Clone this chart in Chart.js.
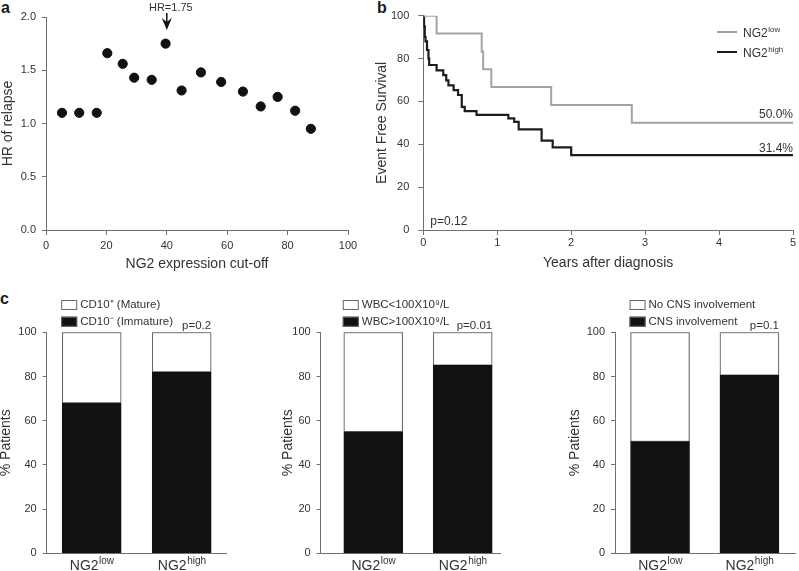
<!DOCTYPE html>
<html>
<head>
<meta charset="utf-8">
<script src="https://cdn.jsdelivr.net/npm/chart.js@4.4.0/dist/chart.umd.min.js"></script>
<style>
  body { margin: 0; background: #fff; width: 799px; height: 571px; position: relative; overflow: hidden;
         font-family: "Liberation Sans", Arial, Helvetica, sans-serif; }
  canvas { position: absolute; }
  .tag { position: absolute; font-weight: bold; font-size: 16px; line-height: 16px; color: #1a1a1a; }
</style>
</head>
<body>
<div class="tag" style="left:1px;top:0px">a</div>
<div class="tag" style="left:377px;top:0px">b</div>
<div class="tag" style="left:0px;top:291px">c</div>

<canvas id="chartA" width="365" height="280" style="left:0;top:0"></canvas>
<canvas id="chartB" width="434" height="280" style="left:365px;top:0"></canvas>
<canvas id="chartC1" width="237" height="281" style="left:-8px;top:290px"></canvas>
<canvas id="chartC2" width="240" height="281" style="left:262px;top:290px"></canvas>
<canvas id="chartC3" width="252" height="281" style="left:545px;top:290px"></canvas>

<script>
// Panel a: hazard ratio of relapse per NG2 cut-off
const cutoffs = [5.3, 11, 16.8, 20.3, 25.4, 29.2, 35, 39.6, 44.9, 51.3, 58, 65.2, 71.1, 76.7, 82.5, 87.7];
const hrValues = [1.10, 1.10, 1.10, 1.66, 1.56, 1.43, 1.41, 1.75, 1.31, 1.48, 1.39, 1.30, 1.16, 1.25, 1.12, 0.95];
const hrHighlightCutoff = 40;
const hrHighlightText = 'HR=1.75';

// Panel b: Kaplan-Meier event free survival (years, %)
const lowTimes = [0, 0.18, 0.79, 0.81, 0.92, 1.73, 2.82, 5];
const lowSurv = [100, 91.7, 83.3, 75, 66.7, 58.3, 50, 50];
const highTimes = [0, 0.01, 0.02, 0.03, 0.05, 0.07, 0.08, 0.18, 0.27, 0.31, 0.34, 0.41, 0.47, 0.52, 0.56, 0.72, 1.15, 1.23, 1.29, 1.6, 1.75, 2.0, 5];
const highSurv = [100, 95, 90, 88, 84, 80, 77, 74.5, 72.3, 69.8, 67.5, 65.3, 63, 57.5, 55.5, 53.7, 52.1, 50.5, 47, 41.7, 38.6, 34.9, 34.9];
const kmEndLabels = ['50.0%', '31.4%'];
const kmPText = 'p=0.12';

// Panel c: % patients per group
const groupBase = 'NG2';
const groupSup = ['low', 'high'];
const cd10Neg = [68, 82];
const cd10Pos = [32, 18];
const wbcHigh = [55, 85];
const wbcLow = [45, 15];
const cnsYes = [50.5, 80.5];
const cnsNo = [49.5, 19.5];
const barPValues = ['p=0.2', 'p=0.01', 'p=0.1'];

const FONT = '"Liberation Sans", Arial, Helvetica, sans-serif';
const AXIS = '#707070';
const TXT = '#333';

Chart.defaults.font.family = FONT;
Chart.defaults.color = TXT;

// common look of an axis: outward ticks, no grid inside
function axisLook(tickLen, tickPad, step) {
    return {
        grid: { display: true, drawOnChartArea: false, drawTicks: true, tickLength: tickLen, color: AXIS, lineWidth: 1 },
        border: { display: true, color: AXIS, width: 1 },
        ticks: { color: TXT, font: { size: 11 }, padding: tickPad, stepSize: step }
    };
}

// text with a raised suffix, y is the baseline
function drawSup(ctx, x, y, base, sup, size, align) {
    const supSize = Math.round(size * 0.7);
    ctx.font = size + 'px ' + FONT;
    const wb = ctx.measureText(base).width;
    ctx.font = supSize + 'px ' + FONT;
    const ws = ctx.measureText(sup).width;
    const start = align === 'center' ? x - (wb + ws) / 2 : x;
    ctx.textAlign = 'left';
    ctx.textBaseline = 'alphabetic';
    ctx.font = size + 'px ' + FONT;
    ctx.fillText(base, start, y);
    ctx.font = supSize + 'px ' + FONT;
    ctx.fillText(sup, start + wb + 0.5, y - size * 0.4);
}

// ---------- panel a ----------
const hrArrow = {
    id: 'hrArrow',
    afterDraw(chart) {
        const ctx = chart.ctx;
        const px = chart.scales.x.getPixelForValue(hrHighlightCutoff);
        ctx.save();
        ctx.fillStyle = TXT;
        ctx.font = '11px ' + FONT;
        ctx.textAlign = 'center';
        ctx.textBaseline = 'middle';
        ctx.fillText(hrHighlightText, px + 4, 8);
        ctx.strokeStyle = '#111';
        ctx.lineWidth = 1.5;
        ctx.beginPath();
        ctx.moveTo(px, 13);
        ctx.lineTo(px, 24);
        ctx.stroke();
        ctx.fillStyle = '#111';
        ctx.beginPath();
        ctx.moveTo(px - 5, 18);
        ctx.lineTo(px, 30);
        ctx.lineTo(px + 5, 18);
        ctx.lineTo(px, 22);
        ctx.closePath();
        ctx.fill();
        ctx.restore();
    }
};

new Chart(document.getElementById('chartA'), {
    type: 'scatter',
    data: {
        datasets: [{
            data: cutoffs.map((c, i) => ({ x: c, y: hrValues[i] })),
            backgroundColor: '#111',
            borderColor: '#111',
            pointRadius: 4.6,
            pointHoverRadius: 4.6
        }]
    },
    options: {
        responsive: false,
        animation: false,
        layout: { padding: { left: 0, top: 17, right: 17, bottom: 0 } },
        plugins: { legend: { display: false }, tooltip: { enabled: false } },
        scales: {
            x: Object.assign(axisLook(5, 4, 20), {
                type: 'linear', min: 0, max: 100,
                title: { display: true, text: 'NG2 expression cut-off', color: TXT, font: { size: 14 }, padding: { top: 0, bottom: 7 } },
                afterFit: s => { s.height = 50; }
            }),
            y: Object.assign(axisLook(4, 6, 0.5), {
                min: 0, max: 2,
                title: { display: true, text: 'HR of relapse', color: TXT, font: { size: 14 }, padding: { top: 0, bottom: 0 } },
                afterFit: s => { s.width = 46; }
            })
        }
    },
    plugins: [hrArrow]
});
Chart.getChart('chartA').options.scales.y.ticks.callback = v => v.toFixed(1);
Chart.getChart('chartA').update();

// ---------- panel b ----------
const kmNotes = {
    id: 'kmNotes',
    afterDraw(chart) {
        const ctx = chart.ctx;
        const { x, y } = chart.scales;
        const area = chart.chartArea;
        ctx.save();
        // legend
        const rows = [['#a3a3a3', groupSup[0], 32], ['#1c1c1c', groupSup[1], 52]];
        rows.forEach(r => {
            ctx.strokeStyle = r[0];
            ctx.lineWidth = 2;
            ctx.beginPath();
            ctx.moveTo(352, r[2]);
            ctx.lineTo(372, r[2]);
            ctx.stroke();
            ctx.fillStyle = TXT;
            drawSup(ctx, 378, r[2] + 4.5, groupBase, r[1], 12, 'left');
        });
        // end of follow-up values
        ctx.font = '12px ' + FONT;
        ctx.textAlign = 'right';
        ctx.textBaseline = 'bottom';
        ctx.fillText(kmEndLabels[0], x.getPixelForValue(5), y.getPixelForValue(lowSurv[lowSurv.length - 1]) - 2);
        ctx.fillText(kmEndLabels[1], x.getPixelForValue(5), y.getPixelForValue(highSurv[highSurv.length - 1]) - 0.5);
        ctx.textAlign = 'left';
        ctx.textBaseline = 'middle';
        ctx.fillText(kmPText, area.left + 7, 222);
        ctx.restore();
    }
};

new Chart(document.getElementById('chartB'), {
    type: 'line',
    data: {
        datasets: [{
            label: groupBase + groupSup[0],
            data: lowTimes.map((t, i) => ({ x: t, y: lowSurv[i] })),
            borderColor: '#a3a3a3',
            borderWidth: 2,
            stepped: true,
            pointRadius: 0,
            fill: false
        }, {
            label: groupBase + groupSup[1],
            data: highTimes.map((t, i) => ({ x: t, y: highSurv[i] })),
            borderColor: '#1c1c1c',
            borderWidth: 2.2,
            stepped: true,
            pointRadius: 0,
            fill: false
        }]
    },
    options: {
        responsive: false,
        animation: false,
        layout: { padding: { left: 0, top: 15.7, right: 6, bottom: 0 } },
        plugins: { legend: { display: false }, tooltip: { enabled: false } },
        scales: {
            x: Object.assign(axisLook(5, 1, 1), {
                type: 'linear', min: 0, max: 5,
                title: { display: true, text: 'Years after diagnosis', color: TXT, font: { size: 14 }, padding: { top: 0, bottom: 8 } },
                afterFit: s => { s.height = 50; }
            }),
            y: Object.assign(axisLook(5, 9, 20), {
                min: 0, max: 100,
                title: { display: true, text: 'Event Free Survival', color: TXT, font: { size: 14 }, padding: { top: 8.3, bottom: 0 } },
                afterFit: s => { s.width = 58.3; }
            })
        }
    },
    plugins: [kmNotes]
});

// ---------- panel c ----------
function drawBarChart(id, blackVals, whiteVals, legendTexts, pText, place) {
    const notes = {
        id: 'barNotes',
        afterDraw(chart) {
            const ctx = chart.ctx;
            const x = chart.scales.x;
            const half = 29.5;
            ctx.save();
            // legend: white box first, black box second
            const boxLeft = x.getPixelForValue(0) - half - 1;
            [[15, '#fff'], [31.7, '#111']].forEach((r, i) => {
                ctx.fillStyle = r[1];
                ctx.fillRect(boxLeft, r[0] - 5, 16, 10);
                ctx.strokeStyle = '#666';
                ctx.lineWidth = 1;
                ctx.strokeRect(boxLeft + 0.5, r[0] - 4.5, 15, 9);
                ctx.fillStyle = TXT;
                ctx.font = '11.5px ' + FONT;
                ctx.textAlign = 'left';
                ctx.textBaseline = 'middle';
                ctx.fillText(legendTexts[i], boxLeft + 19, r[0]);
            });
            // p value over the second bar
            ctx.textAlign = 'right';
            ctx.font = '11.5px ' + FONT;
            ctx.fillText(pText, x.getPixelForValue(1) + half, 36);
            // group labels
            groupSup.forEach((s, i) => {
                drawSup(ctx, x.getPixelForValue(i), 280, groupBase, s, 14, 'center');
            });
            ctx.restore();
        }
    };

    new Chart(document.getElementById(id), {
        type: 'bar',
        data: {
            datasets: [{
                data: blackVals.map((v, i) => ({ x: i, y: v })),
                backgroundColor: '#111',
                borderColor: '#111',
                borderWidth: 1,
                borderSkipped: false,
                stack: 'p',
                barThickness: 59
            }, {
                data: whiteVals.map((v, i) => ({ x: i, y: v })),
                backgroundColor: '#fff',
                borderColor: '#6a6a6a',
                borderWidth: 1.2,
                borderSkipped: false,
                stack: 'p',
                barThickness: 59
            }]
        },
        options: {
            responsive: false,
            animation: false,
            layout: { padding: { left: 0, top: 42.3, right: place.padRight, bottom: 0 } },
            plugins: { legend: { display: false }, tooltip: { enabled: false } },
            scales: {
                x: {
                    type: 'linear', min: place.xMin, max: place.xMax, offset: false,
                    grid: { display: false, offset: false },
                    ticks: { display: false },
                    border: { display: true, color: AXIS, width: 1 },
                    afterFit: s => { s.height = 17.7; }
                },
                y: Object.assign(axisLook(4, 6, 20), {
                    min: 0, max: 100, stacked: true,
                    title: { display: true, text: '% Patients', color: TXT, font: { size: 14 }, padding: { top: place.titlePad, bottom: 0 } },
                    afterFit: s => { s.width = place.yWidth; }
                })
            }
        },
        plugins: [notes]
    });
}

drawBarChart('chartC1', cd10Neg, cd10Pos, ['CD10\u207A (Mature)', 'CD10\u207B (Immature)'], barPValues[0],
    { yWidth: 54.7, titlePad: 5.6, padRight: 2.3, xMin: -0.5, xMax: 1.5 });
drawBarChart('chartC2', wbcHigh, wbcLow, ['WBC<100X10\u2079/L', 'WBC>100X10\u2079/L'], barPValues[1],
    { yWidth: 58.7, titlePad: 17.6, padRight: 2, xMin: -0.588, xMax: 1.417 });
drawBarChart('chartC3', cnsYes, cnsNo, ['No CNS involvement', 'CNS involvement'], barPValues[2],
    { yWidth: 70, titlePad: 21.6, padRight: 2, xMin: -0.504, xMax: 1.51 });
</script>
</body>
</html>
